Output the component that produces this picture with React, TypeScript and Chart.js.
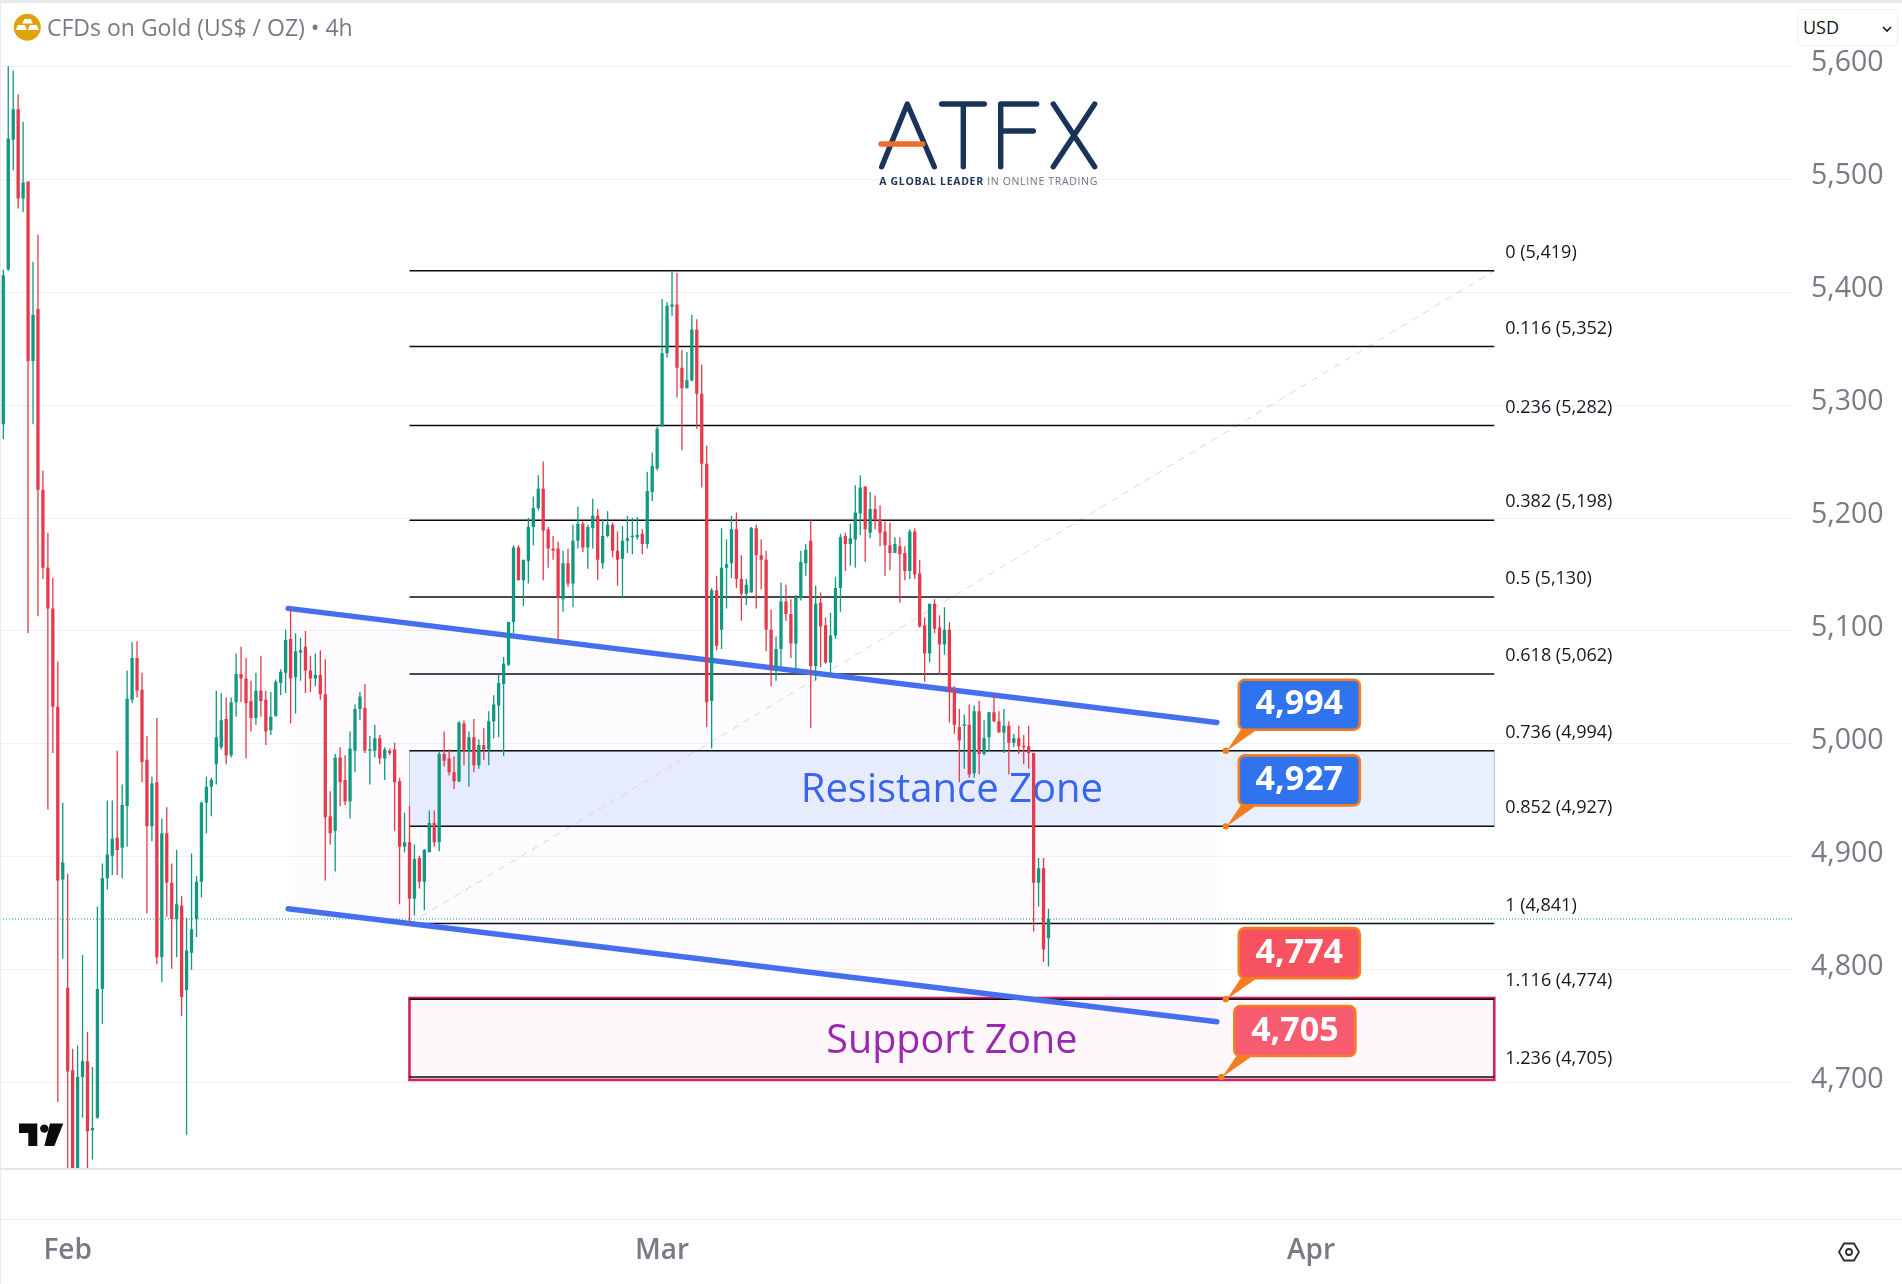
import { Chart, registerables } from "chart.js"
import { useEffect, useRef } from "react"

Chart.register(...registerables)

const opens = [
    5283,5420,5535,5562,5483,5498,5339,5385,5225,5156,
    5120,5033,4880,4784,4711,4610,4705,4719,4658,4669,
    4783,4881,4901,4917,4908,4945,5039,5076,5048,4986,
    4927,4966,4811,4921,4877,4845,4857,4782,4815,4845,
    4878,4948,4962,4982,4997,5022,4990,5037,5062,5058,
    5038,5023,5047,5039,5012,5025,5054,5063,5093,5059,
    5081,5086,5065,5058,5061,5044,4936,4923,4988,4968,
    4949,4994,5031,5032,4994,4994,5005,4987,4994,4995,
    4967,4909,4913,4863,4899,4878,4904,4930,4913,4991,
    4987,4975,4967,5018,4993,5006,4981,4999,4995,5020,
    5034,5053,5070,5108,5174,5145,5162,5192,5209,5226,
    5190,5173,5173,5128,5160,5142,5180,5195,5174,5191,
    5202,5160,5184,5194,5171,5164,5180,5183,5183,5186,
    5177,5223,5244,5281,5346,5387,5389,5333,5315,5322,
    5367,5310,5248,5038,5136,5101,5156,5160,5190,5146,
    5133,5134,5191,5167,5163,5101,5068,5084,5126,5115,
    5089,5129,5160,5180,5069,5125,5105,5072,5096,5138,
    5184,5177,5181,5204,5228,5187,5208,5199,5188,5176,
    5169,5175,5169,5153,5188,5151,5105,5080,5124,5103,
    5088,5101,5048,5015,5016,5017,4974,5029,4991,5006,
    5028,5020,5010,5016,5001,5005,4998,4998,4992,4877,
    4890,4828,
]
const highs = [
    5420,5602,5596,5575,5551,5498,5427,5451,5242,5187,
    5147,5073,4948,4885,4730,4733,4813,4745,4714,4856,
    4894,4950,4950,4994,4964,5065,5090,5091,5063,5007,
    4971,5023,4934,4944,4894,4906,4865,4846,4903,4883,
    4949,4971,4970,5047,5045,5041,5041,5080,5086,5076,
    5056,5063,5078,5047,5046,5057,5066,5101,5119,5098,
    5094,5100,5078,5080,5083,5075,4958,4991,4997,4990,
    5011,5035,5046,5053,5007,5017,5008,4997,4996,5001,
    4970,4939,4945,4911,4901,4907,4941,4941,4994,5011,
    4995,4989,5020,5021,5011,5022,5004,5014,5029,5043,
    5061,5077,5108,5176,5176,5163,5200,5219,5238,5250,
    5192,5184,5179,5171,5173,5194,5210,5197,5194,5217,
    5208,5199,5206,5196,5188,5193,5202,5200,5201,5190,
    5241,5258,5281,5394,5391,5419,5417,5349,5347,5380,
    5376,5336,5264,5138,5149,5191,5181,5202,5205,5167,
    5146,5192,5194,5181,5171,5119,5095,5143,5141,5128,
    5132,5171,5177,5198,5140,5134,5112,5116,5148,5186,
    5187,5195,5229,5238,5228,5223,5220,5211,5197,5196,
    5183,5183,5175,5190,5191,5163,5112,5124,5128,5114,
    5121,5108,5051,5031,5026,5035,5034,5038,5021,5028,
    5044,5029,5031,5020,5009,5016,5008,5016,4992,4899,
    4899,4854,
]
const lows = [
    5270,5419,5508,5474,5471,5098,5283,5113,5146,4942,
    4992,4683,4810,4600,4600,4600,4669,4600,4632,4668,
    4752,4871,4884,4884,4881,4909,5036,5041,4966,4850,
    4914,4805,4789,4847,4801,4811,4759,4654,4800,4829,
    4864,4921,4936,4964,4995,4982,4988,5024,5037,4987,
    5011,5017,5024,4999,5008,5024,5043,5045,5018,5027,
    5056,5045,5046,5051,5039,4879,4911,4887,4945,4946,
    4934,4975,5021,4992,4964,4988,4982,4968,4990,4923,
    4858,4904,4842,4848,4872,4853,4904,4909,4905,4980,
    4972,4960,4966,4981,4962,4975,4978,4986,4981,5005,
    5006,4989,5069,5098,5145,5122,5142,5176,5207,5145,
    5156,5163,5092,5117,5139,5121,5173,5170,5155,5173,
    5145,5155,5183,5165,5140,5129,5169,5168,5181,5168,
    5173,5215,5242,5281,5342,5379,5307,5260,5315,5321,
    5279,5227,5015,4996,5083,5084,5120,5147,5138,5109,
    5123,5134,5120,5137,5082,5051,5056,5068,5109,5076,
    5063,5127,5149,5014,5056,5068,5071,5061,5093,5117,
    5153,5158,5156,5185,5161,5182,5190,5175,5149,5154,
    5169,5125,5145,5146,5146,5103,5055,5072,5098,5061,
    5079,5019,5009,4966,4978,4970,4970,4973,4990,4994,
    5019,5010,4992,4973,4997,4991,4982,4978,4834,4856,
    4807,4803,
]
const closes = [
    5415,5536,5562,5483,5497,5339,5380,5225,5156,5120,
    5033,4879,4895,4710,4610,4705,4719,4657,4660,4783,
    4881,4902,4916,4906,4946,5040,5076,5047,4984,4927,
    4965,4811,4921,4877,4845,4858,4776,4817,4836,4878,
    4948,4962,4968,5006,5021,4990,5037,5062,5058,5036,
    5023,5047,5038,5011,5024,5055,5064,5092,5058,5082,
    5083,5065,5058,5061,5044,4935,4921,4988,4966,4949,
    4996,5031,5042,4994,4995,5005,4987,4995,4992,4966,
    4909,4913,4863,4898,4878,4906,4930,4913,4991,4985,
    4975,4967,5019,4993,5006,4981,4999,4995,5020,5035,
    5054,5071,5108,5174,5145,5163,5192,5209,5226,5189,
    5173,5171,5129,5160,5142,5180,5195,5174,5192,5202,
    5163,5184,5194,5171,5163,5180,5182,5184,5185,5177,
    5224,5246,5279,5346,5388,5389,5333,5315,5322,5367,
    5310,5248,5037,5136,5087,5156,5159,5190,5146,5133,
    5141,5191,5167,5163,5101,5068,5084,5126,5115,5089,
    5130,5161,5172,5069,5124,5104,5072,5096,5138,5183,
    5177,5182,5205,5227,5190,5208,5199,5187,5176,5169,
    5177,5168,5153,5188,5150,5104,5080,5124,5102,5088,
    5101,5046,5017,5003,5017,4973,5029,4991,5005,5028,
    5020,5010,5016,5001,5005,4998,4997,4992,4877,4890,
    4818,4845,
]

const monthTicks = [13, 133, 264]
const monthLabels = ["Feb", "Mar", "Apr"]
const priceTicks = [4700, 4800, 4900, 5000, 5100, 5200, 5300, 5400, 5500, 5600]

const fibRatios = ["0", "0.116", "0.236", "0.382", "0.5", "0.618", "0.736", "0.852", "1", "1.116", "1.236"]
const fibPrices = [5419, 5352, 5282, 5198, 5130, 5062, 4994, 4927, 4841, 4774, 4705]
const fibRange = [82, 301]

const channelRange = [57.5, 245]
const channelUpper = [5120, 5019]
const channelLower = [4854, 4754]

const lastPrice = 4845
const xLimits = [-0.666, 361.1]
const yLimits = [4623.6, 5600]

const resistanceZone = [4994, 4927]
const supportZone = [4775, 4702.5]

const calloutLabels = ["4,994", "4,927", "4,774", "4,705"]
const calloutPrices = [4994, 4927, 4774, 4705]
const calloutBars = [246.8, 246.8, 246.8, 245.9]
const calloutColors = ["#2f74ee", "#2f74ee", "#f6525f", "#f75c70"]

const UP = "#0f9980"
const DOWN = "#e63a4c"
const FONT = '"Open Sans", sans-serif'

const candleColors = closes.map((c, i) => (c >= opens[i] ? UP : DOWN))

const overlayPlugin = {
    id: "overlay",
    beforeDatasetsDraw(chart: any) {
        const { ctx, scales } = chart
        const x = scales.x
        const y = scales.y
        const left = x.getPixelForValue(fibRange[0])
        const right = x.getPixelForValue(fibRange[1])

        ctx.save()
        // resistance box
        const rTop = y.getPixelForValue(resistanceZone[0])
        const rBottom = y.getPixelForValue(resistanceZone[1])
        ctx.fillStyle = "rgba(41, 120, 245, 0.11)"
        ctx.fillRect(left, rTop, right - left, rBottom - rTop)
        ctx.strokeStyle = "#9dbdf0"
        ctx.lineWidth = 1
        ctx.strokeRect(left, rTop, right - left, rBottom - rTop)

        // support box
        const sTop = y.getPixelForValue(supportZone[0])
        const sBottom = y.getPixelForValue(supportZone[1])
        ctx.fillStyle = "rgba(233, 30, 99, 0.03)"
        ctx.fillRect(left, sTop, right - left, sBottom - sTop)
        ctx.strokeStyle = "#d81f5e"
        ctx.lineWidth = 2.6
        ctx.strokeRect(left, sTop, right - left, sBottom - sTop)

        ctx.textAlign = "center"
        ctx.textBaseline = "middle"
        ctx.font = `40px ${FONT}`
        ctx.fillStyle = "#3566ee"
        ctx.fillText("Resistance Zone", (left + right) / 2, (rTop + rBottom) / 2 + 2)
        ctx.font = `39.5px ${FONT}`
        ctx.fillStyle = "#9c27b0"
        ctx.fillText("Support Zone", (left + right) / 2, (sTop + sBottom) / 2 + 3)
        ctx.restore()
    },
    afterDatasetsDraw(chart: any) {
        const { ctx, scales } = chart
        const x = scales.x
        const y = scales.y

        ctx.save()
        ctx.font = `18px ${FONT}`
        ctx.fillStyle = "#131722"
        ctx.textAlign = "left"
        ctx.textBaseline = "middle"
        fibRatios.forEach((ratio, i) => {
            const label = `${ratio} (${fibPrices[i].toLocaleString("en-US")})`
            ctx.fillText(label, x.getPixelForValue(fibRange[1]) + 11, y.getPixelForValue(fibPrices[i]) - 18)
        })

        calloutLabels.forEach((label, i) => {
            const ax = x.getPixelForValue(calloutBars[i])
            const ay = y.getPixelForValue(calloutPrices[i])
            const bx = ax + 13
            const by = ay - 71
            const w = 121
            const h = 50

            ctx.fillStyle = "#f57c1f"
            ctx.beginPath()
            ctx.moveTo(ax + 1, ay)
            ctx.lineTo(bx + 2, by + h)
            ctx.lineTo(bx + 18, by + h)
            ctx.closePath()
            ctx.fill()
            ctx.beginPath()
            ctx.arc(ax, ay, 3.2, 0, Math.PI * 2)
            ctx.fill()

            ctx.fillStyle = calloutColors[i]
            ctx.strokeStyle = "#f57c1f"
            ctx.lineWidth = 2.6
            ctx.beginPath()
            ctx.roundRect(bx, by, w, h, 6)
            ctx.fill()
            ctx.stroke()

            ctx.font = `bold 34px ${FONT}`
            ctx.fillStyle = "#ffffff"
            ctx.textAlign = "center"
            ctx.fillText(label, bx + w / 2, by + h / 2)
        })
        ctx.restore()
    },
}

const App = () => {
    const canvasRef = useRef<HTMLCanvasElement>(null)

    useEffect(() => {
        if (!canvasRef.current) return

        const lineBase = { type: "line", pointRadius: 0, borderJoinStyle: "round", fill: false }

        const fibLines = fibPrices.map((price) => ({
            ...lineBase,
            data: fibRange.map((bar) => ({ x: bar, y: price })),
            borderColor: "#0b0d12",
            borderWidth: 1.5,
            order: 40,
        }))

        const myChart = new Chart(canvasRef.current, {
            type: "bar",
            data: {
                datasets: [
                    ...fibLines,
                    {
                        ...lineBase,
                        data: [
                            { x: fibRange[0], y: fibPrices[8] },
                            { x: fibRange[1], y: fibPrices[0] },
                        ],
                        borderColor: "#d5d7dc",
                        borderWidth: 1,
                        borderDash: [7, 6],
                        order: 45,
                    },
                    {
                        ...lineBase,
                        data: xLimits.map((bar) => ({ x: bar, y: lastPrice })),
                        borderColor: UP,
                        borderWidth: 1,
                        borderDash: [1, 2],
                        order: 50,
                    },
                    {
                        ...lineBase,
                        data: channelRange.map((bar, i) => ({ x: bar, y: channelUpper[i] })),
                        borderColor: "#4470f0",
                        borderWidth: 5.4,
                        borderCapStyle: "round",
                        fill: "+1",
                        backgroundColor: "rgba(150, 90, 220, 0.022)",
                        order: 30,
                    },
                    {
                        ...lineBase,
                        data: channelRange.map((bar, i) => ({ x: bar, y: channelLower[i] })),
                        borderColor: "#4470f0",
                        borderWidth: 5.4,
                        borderCapStyle: "round",
                        order: 30,
                    },
                    {
                        type: "bar",
                        data: highs.map((high, i) => ({ x: i, y: [lows[i], high] })),
                        backgroundColor: candleColors,
                        barThickness: 1.3,
                        grouped: false,
                        inflateAmount: 0,
                        order: 20,
                    },
                    {
                        type: "bar",
                        data: opens.map((open, i) => ({ x: i, y: [open, closes[i]] })),
                        backgroundColor: candleColors,
                        barThickness: 3.3,
                        minBarLength: 1.5,
                        grouped: false,
                        inflateAmount: 0,
                        order: 10,
                    },
                ] as any,
            },
            options: {
                animation: false,
                responsive: false,
                devicePixelRatio: 1,
                layout: { padding: { top: 66.3 } },
                plugins: {
                    legend: { display: false },
                    tooltip: { enabled: false },
                },
                scales: {
                    x: {
                        type: "linear",
                        bounds: "data",
                        offset: false,
                        min: xLimits[0],
                        max: xLimits[1],
                        grid: { display: false },
                        border: { display: false },
                        afterBuildTicks: (axis: any) => {
                            axis.ticks = monthTicks.map((value) => ({ value }))
                        },
                        afterFit: (axis: any) => {
                            axis.height = 115
                            axis.paddingLeft = 0
                            axis.paddingRight = 0
                        },
                        ticks: {
                            autoSkip: false,
                            maxRotation: 0,
                            padding: 57,
                            color: "#787b86",
                            font: { family: FONT, size: 28, weight: "600" },
                            callback: (value: any) => monthLabels[monthTicks.indexOf(value)],
                        },
                    },
                    y: {
                        position: "right",
                        bounds: "data",
                        min: yLimits[0],
                        max: yLimits[1],
                        grid: { color: "#eff0f2", drawTicks: false },
                        border: { display: false },
                        afterBuildTicks: (axis: any) => {
                            axis.ticks = priceTicks.map((value) => ({ value }))
                        },
                        afterFit: (axis: any) => {
                            axis.width = 110
                            axis.paddingTop = 0
                            axis.paddingBottom = 0
                        },
                        ticks: {
                            autoSkip: false,
                            padding: 19,
                            labelOffset: -3,
                            color: "#787b86",
                            font: { family: FONT, size: 28.5 },
                            callback: (value: any) => Number(value).toLocaleString("en-US"),
                        },
                    },
                },
            } as any,
            plugins: [overlayPlugin],
        })

        return () => {
            myChart.destroy()
        }
    }, [])

    return (
        <div style={{ position: "absolute", left: 0, top: 0, width: 1902, height: 1284, overflow: "hidden", background: "#fff" }}>
            <canvas ref={canvasRef} width={1902} height={1284} style={{ position: "absolute", left: 0, top: 0 }}></canvas>

            <svg width={1902} height={1284} style={{ position: "absolute", left: 0, top: 0, pointerEvents: "none" }}>
                <rect x={0} y={0} width={1902} height={3} fill="#e9e9e9" />
                <rect x={0} y={0} width={1} height={1284} fill="#ececec" />
                <rect x={0} y={1168} width={1902} height={2} fill="#e6e6e6" />
                <rect x={0} y={1219} width={1902} height={1} fill="#ebebeb" />

                <circle cx={27.3} cy={27.3} r={13.5} fill="#dca30c" />
                <path d="M24 19h6.5l2 4.5h-10.500z M17.500 25h7l2 5h-11z M29.500 25h7l2 5h-11z" fill="#fff" transform="translate(0.300 0)" />

                <g stroke="#1a3358" strokeWidth={5.4} strokeLinecap="round" strokeLinejoin="round" fill="none">
                    <path d="M881.700 166.700L907.300 104L934.300 166.700" />
                    <path d="M941.700 104H984.300M963.300 104V166.700" />
                    <path d="M1036.700 104H1000.700V166.700M1000.700 131H1033.300" />
                    <path d="M1053.300 104L1094.700 166.700M1094.700 104L1053.300 166.700" />
                </g>
                <path d="M881 144H922.700" stroke="#ee6c2d" strokeWidth={5.4} strokeLinecap="round" />
                <text x={879.300} y={185} textLength={218} fontFamily="Open Sans" fontSize={10.500} fill="#1f3558">
                    <tspan fontWeight={700}>A GLOBAL LEADER</tspan>
                    <tspan fill="#6d7486"> IN ONLINE TRADING</tspan>
                </text>

                <path d="M19 1123.600H37.300V1146H28.300V1133H19z" fill="#0b0b0b" />
                <circle cx={44.300} cy={1128.600} r={4.200} fill="#0b0b0b" />
                <path d="M50 1123.600H63.300L54.300 1146H44.300z" fill="#0b0b0b" />

                <path d="M1839 1252L1844 1243.500H1854L1859 1252L1854 1260.500H1844z" stroke="#2a2d35" strokeWidth={1.8} fill="none" />
                <circle cx={1849} cy={1252} r={3} stroke="#2a2d35" strokeWidth={1.8} fill="none" />
            </svg>

            <div style={{ position: "absolute", left: 47, top: 10, fontFamily: FONT, fontSize: 23, lineHeight: "34px", color: "#787b86", whiteSpace: "nowrap" }}>
                CFDs on Gold (US$ / OZ) • 4h
            </div>

            <div style={{ position: "absolute", left: 1797, top: 9, width: 101, height: 37, boxSizing: "border-box", border: "1px solid #efefef", borderRadius: 5, background: "#fff", fontFamily: FONT, fontSize: 18, lineHeight: "35px", paddingLeft: 5, color: "#131722" }}>
                USD
                <svg width={10} height={8} style={{ position: "absolute", right: 5, top: 15 }}>
                    <path d="M1 2L5 6L9 2" stroke="#131722" strokeWidth={1.600} fill="none" />
                </svg>
            </div>
        </div>
    )
}

export default App
